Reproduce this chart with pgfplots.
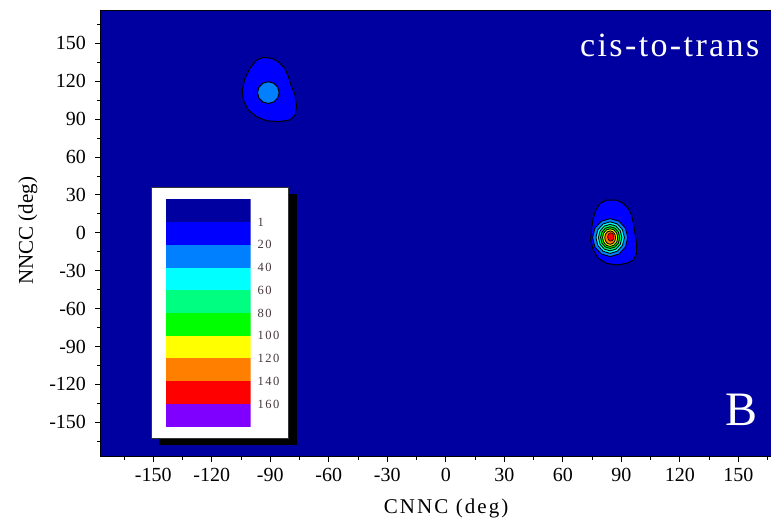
\documentclass[border=0pt]{standalone}
\usepackage{fontspec}
\setmainfont{Liberation Serif}
\newfontfamily\spaced[LetterSpace=10]{Liberation Serif}
\newfontfamily\legfont[LetterSpace=12]{Liberation Serif}
\newfontfamily\titfont[LetterSpace=7]{Liberation Serif}
\usepackage{pgfplots}
\pgfplotsset{compat=1.18}
\definecolor{bgblue}{RGB}{0,0,160}
\definecolor{cA}{RGB}{0,0,160}
\definecolor{cB}{RGB}{0,0,255}
\definecolor{cC}{RGB}{0,128,255}
\definecolor{cD}{RGB}{0,255,255}
\definecolor{cE}{RGB}{0,255,128}
\definecolor{cF}{RGB}{0,255,0}
\definecolor{cG}{RGB}{255,255,0}
\definecolor{cH}{RGB}{255,128,0}
\definecolor{cI}{RGB}{255,0,0}
\definecolor{cJ}{RGB}{128,0,255}
\definecolor{labgray}{RGB}{70,55,60}
\begin{document}
\begin{tikzpicture}
\begin{axis}[
  scale only axis, width=695.8pt, height=445pt,
  xmin=-176.8, xmax=180, ymin=-176.7, ymax=175.6,
  axis background/.style={fill=bgblue},
  xtick={-150,-120,...,150}, ytick={-150,-120,...,150},
  minor xtick={-165,-135,...,165}, minor ytick={-165,-135,...,165},
  tick align=outside, tick pos=left,
  major tick length=6pt, minor tick length=3.5pt,
  every tick/.style={black, line width=0.9pt},
  axis line style={line width=1pt},
  /pgf/number format/assume math mode=true,
  tick label style={font=\fontsize{20}{24}\selectfont},
  xticklabel style={yshift=-3pt},
  yticklabel style={xshift=-5.5pt},
  xlabel={CNNC (deg)}, ylabel={NNCC (deg)},
  xlabel style={font=\spaced\fontsize{21}{25}\selectfont, at={(axis description cs:0.496,-0.117)}, anchor=center},
  ylabel style={font=\fontsize{21}{25}\selectfont, at={(axis description cs:-0.105,0.506)}, anchor=center},
]
% blob 1 (about -90, 112)
\addplot[fill=cB, draw=black, line width=1pt] coordinates {
(-97.0,136.8) (-93.6,138.9) (-89.3,138.1) (-85.9,135.5) (-82.5,130.2) (-80.7,123.6) (-79.4,117.0) (-77.3,109.1) (-76.5,99.8) (-77.3,93.2) (-79.9,89.3) (-85.9,88.0) (-91.9,88.7) (-97.0,91.9) (-101.3,97.2) (-103.8,105.1) (-104.3,113.0) (-103.0,122.3) (-100.4,130.2)
} -- cycle;
\addplot[fill=cC, draw=black, line width=1pt] coordinates {
(-85.45,111) (-86.19,115.3) (-88.22,118.45) (-91,119.6) (-93.78,118.45) (-95.81,115.3) (-96.55,111) (-95.81,106.7) (-93.78,103.55) (-91,102.4) (-88.22,103.55) (-86.19,106.7)
} -- cycle;
% blob 2 (about 84, -4)
\addplot[fill=cB, draw=black, line width=1pt] coordinates {
(79.1,23.3) (82.5,25.9) (87.6,25.9) (91.0,23.3) (93.6,19.3) (95.3,14.1) (96.2,7.5) (97.0,-0.4) (97.9,-8.4) (97.9,-16.3) (96.2,-21.6) (92.7,-24.2) (87.6,-25.5) (82.5,-24.2) (78.2,-20.2) (75.6,-13.6) (74.3,-5.7) (74.8,3.5) (75.6,11.4) (77.0,18.0)
} -- cycle;
\addplot[fill=cC, draw=black, line width=0.9pt] coordinates {
(93.3,-3.8) (92.1,3.7) (88.8,9.2) (84.3,11.2) (79.8,9.2) (76.5,3.7) (75.3,-3.8) (76.5,-11.3) (79.8,-16.8) (84.3,-18.8) (88.8,-16.8) (92.1,-11.3)
} -- cycle;
\addplot[fill=cD, draw=black, line width=0.9pt] coordinates {
(91.6,-3.8) (90.6,2.45) (87.95,7.0) (84.3,8.7) (80.65,7.0) (77.98,2.45) (77.0,-3.8) (77.98,-10.05) (80.65,-14.6) (84.3,-16.3) (87.95,-14.6) (90.62,-10.05)
} -- cycle;
\addplot[fill=cE, draw=black, line width=0.9pt] coordinates {
(90.3,-3.8) (89.5,1.45) (87.3,5.3) (84.3,6.7) (81.3,5.3) (79.1,1.45) (78.3,-3.8) (79.1,-9.05) (81.3,-12.9) (84.3,-14.3) (87.3,-12.9) (89.5,-9.05)
} -- cycle;
\addplot[fill=cF, draw=black, line width=0.9pt] coordinates {
(89.2,-3.8) (88.54,0.5) (86.75,3.65) (84.3,4.8) (81.85,3.65) (80.06,0.5) (79.4,-3.8) (80.06,-8.1) (81.85,-11.25) (84.3,-12.4) (86.75,-11.25) (88.54,-8.1)
} -- cycle;
\addplot[fill=cG, draw=black, line width=0.9pt] coordinates {
(88.2,-3.8) (87.68,-0.3) (86.25,2.26) (84.3,3.2) (82.35,2.26) (80.92,-0.3) (80.4,-3.8) (80.92,-7.3) (82.35,-9.86) (84.3,-10.8) (86.25,-9.86) (87.68,-7.3)
} -- cycle;
\addplot[fill=cH, draw=black, line width=0.9pt] coordinates {
(87.1,-3.8) (86.72,-1.15) (85.7,0.79) (84.3,1.5) (82.9,0.79) (81.88,-1.15) (81.5,-3.8) (81.88,-6.45) (82.9,-8.39) (84.3,-9.1) (85.7,-8.39) (86.72,-6.45)
} -- cycle;
\addplot[fill=cI, draw=black, line width=0.6pt] coordinates {
(86.2,-3.3) (85.99,-1.65) (85.4,-0.44) (84.6,0) (83.8,-0.44) (83.21,-1.65) (83.0,-3.3) (83.21,-4.95) (83.8,-6.16) (84.6,-6.6) (85.4,-6.16) (85.99,-4.95)
} -- cycle;
\node[anchor=base west, text=white, font=\titfont\fontsize{34}{38}\selectfont, inner sep=0pt] at (axis cs:68.8,139.4) {cis-to-trans};
\node[anchor=base west, text=white, font=\fontsize{48}{52}\selectfont, inner sep=0pt] at (axis cs:143.2,-152.2) {B};
\end{axis}
% legend box with shadow
\fill[black] (57.7pt,10.8pt) rectangle (195.6pt,261.7pt);
\filldraw[fill=white, draw=black!80, line width=0.8pt] (50.7pt,17.7pt) rectangle (187.3pt,268.7pt);
\begin{axis}[
  at={(64.7pt,29.3pt)}, anchor=south west,
  scale only axis, width=85pt, height=227.4pt,
  xmin=0, xmax=1, ymin=0, ymax=10, y dir=reverse,
  axis line style={draw=none},
  xtick=\empty, ytick={1,2,3,4,5,6,7,8,9},
  yticklabels={1,20,40,60,80,100,120,140,160},
  yticklabel pos=right, major tick length=0pt,
  yticklabel style={font=\legfont\fontsize{12.5}{14}\selectfont, anchor=west, inner sep=0pt, xshift=6.6pt, text=labgray},
]
\addplot[fill=cA, draw=none] coordinates {(0,0) (1,0) (1,1) (0,1)} -- cycle;
\addplot[fill=cB, draw=none] coordinates {(0,1) (1,1) (1,2) (0,2)} -- cycle;
\addplot[fill=cC, draw=none] coordinates {(0,2) (1,2) (1,3) (0,3)} -- cycle;
\addplot[fill=cD, draw=none] coordinates {(0,3) (1,3) (1,4) (0,4)} -- cycle;
\addplot[fill=cE, draw=none] coordinates {(0,4) (1,4) (1,5) (0,5)} -- cycle;
\addplot[fill=cF, draw=none] coordinates {(0,5) (1,5) (1,6) (0,6)} -- cycle;
\addplot[fill=cG, draw=none] coordinates {(0,6) (1,6) (1,7) (0,7)} -- cycle;
\addplot[fill=cH, draw=none] coordinates {(0,7) (1,7) (1,8) (0,8)} -- cycle;
\addplot[fill=cI, draw=none] coordinates {(0,8) (1,8) (1,9) (0,9)} -- cycle;
\addplot[fill=cJ, draw=none] coordinates {(0,9) (1,9) (1,10) (0,10)} -- cycle;
\end{axis}
\pgfresetboundingbox
\path (-101pt,-66pt) rectangle (670pt,456pt);
\end{tikzpicture}
\end{document}
